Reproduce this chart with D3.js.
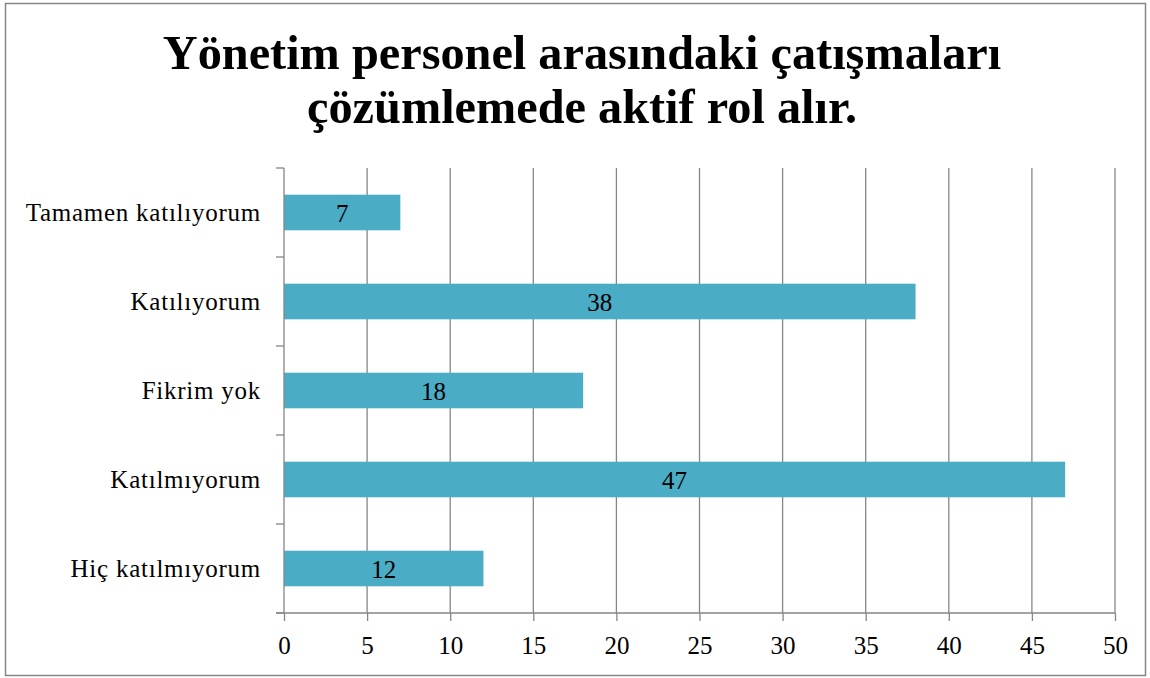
<!DOCTYPE html>
<html>
<head>
<meta charset="utf-8">
<script src="https://cdn.jsdelivr.net/npm/d3@7/dist/d3.min.js"></script>
<style>
  html, body { margin: 0; padding: 0; background: #fff; }
  svg { display: block; }
  svg text { font-family: "Liberation Serif", "Times New Roman", serif; fill: #000; }
</style>
</head>
<body>
<svg id="chart" width="1150" height="678"></svg>
<script>
// Response categories, top to bottom
const categories = [
  "Tamamen katılıyorum",
  "Katılıyorum",
  "Fikrim yok",
  "Katılmıyorum",
  "Hiç katılmıyorum"
];
// Number of respondents per category
const counts = [7, 38, 18, 47, 12];
// Value axis ticks
const xTicks = [0, 5, 10, 15, 20, 25, 30, 35, 40, 45, 50];
const titleLines = [
  "Yönetim personel arasındaki çatışmaları",
  "çözümlemede aktif rol alır."
];

const W = 1150, H = 678;
const margin = { left: 284, right: 35, top: 168, bottom: 65 };
const axisColor = "#868686";
const labelSize = "25px";
const labelSpacing = "0.75px";

const svg = d3.select("#chart");

// outer frame
svg.append("rect")
  .attr("x", 5.5).attr("y", 3.5)
  .attr("width", 1140).attr("height", 672)
  .attr("fill", "#fff")
  .attr("stroke", axisColor)
  .attr("stroke-width", 1.5);

// title
svg.append("g").selectAll("text")
  .data(titleLines)
  .join("text")
  .attr("x", 582)
  .attr("y", (d, i) => 69 + i * 54)
  .attr("text-anchor", "middle")
  .style("font-weight", "bold")
  .style("font-size", "48.3px")
  .text(d => d);

const x = d3.scaleLinear()
  .domain([0, 50])
  .range([margin.left, W - margin.right]);

const y = d3.scaleBand()
  .domain(categories)
  .range([margin.top, H - margin.bottom])
  .paddingInner(0.6)
  .paddingOuter(0.3);

const plotTop = margin.top, plotBottom = H - margin.bottom;

// vertical gridlines
svg.append("g")
  .selectAll("line")
  .data(xTicks.filter(t => t > 0))
  .join("line")
  .attr("x1", d => x(d)).attr("x2", d => x(d))
  .attr("y1", plotTop).attr("y2", plotBottom)
  .attr("stroke", axisColor)
  .attr("stroke-width", 1.3);

const rows = categories.map((c, i) => ({ c, v: counts[i] }));

// bars
svg.append("g")
  .selectAll("rect")
  .data(rows)
  .join("rect")
  .attr("x", x(0))
  .attr("y", d => y(d.c))
  .attr("width", d => x(d.v) - x(0))
  .attr("height", y.bandwidth())
  .attr("fill", "#4BACC6");

// value labels
svg.append("g")
  .selectAll("text")
  .data(rows)
  .join("text")
  .attr("x", d => (x(0) + x(d.v)) / 2)
  .attr("y", d => y(d.c) + y.bandwidth() / 2)
  .attr("dy", "0.38em")
  .attr("text-anchor", "middle")
  .style("font-size", labelSize)
  .text(d => d.v);

// category axis with ticks at band boundaries
const yAxisG = svg.append("g");
yAxisG.append("line")
  .attr("x1", x(0)).attr("x2", x(0))
  .attr("y1", plotTop).attr("y2", plotBottom)
  .attr("stroke", axisColor).attr("stroke-width", 1.3);
const step = (plotBottom - plotTop) / categories.length;
yAxisG.selectAll("line.tick")
  .data(d3.range(categories.length + 1))
  .join("line")
  .attr("class", "tick")
  .attr("x1", x(0) - 8).attr("x2", x(0))
  .attr("y1", i => plotTop + i * step).attr("y2", i => plotTop + i * step)
  .attr("stroke", axisColor).attr("stroke-width", 1.3);
yAxisG.selectAll("text")
  .data(categories)
  .join("text")
  .attr("x", x(0) - 23)
  .attr("y", d => y(d) + y.bandwidth() / 2)
  .attr("dy", "0.33em")
  .attr("text-anchor", "end")
  .style("font-size", labelSize)
  .style("letter-spacing", labelSpacing)
  .text(d => d);

// value axis
const xAxis = d3.axisBottom(x)
  .tickValues(xTicks)
  .tickSize(8)
  .tickSizeOuter(0)
  .tickPadding(15);
const xAxisG = svg.append("g")
  .attr("transform", `translate(0,${plotBottom})`)
  .call(xAxis)
  .attr("font-family", null)
  .attr("font-size", null);
xAxisG.select(".domain")
  .attr("d", `M${x(0) - 8},0H${x(50)}`)
  .attr("stroke", axisColor).attr("stroke-width", 1.3);
xAxisG.selectAll(".tick line")
  .attr("stroke", axisColor).attr("stroke-width", 1.3);
xAxisG.selectAll(".tick text")
  .style("font-size", labelSize);
</script>
</body>
</html>
